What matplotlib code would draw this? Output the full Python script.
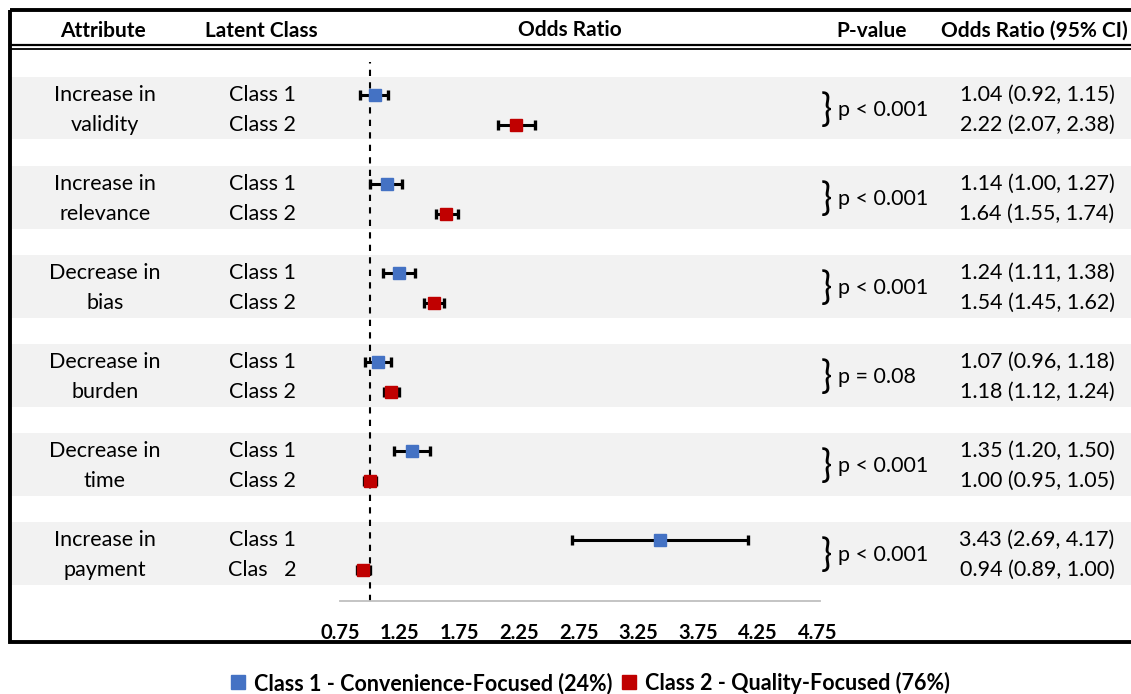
import matplotlib
matplotlib.use("Agg")
import matplotlib.pyplot as plt
import matplotlib.transforms as mtransforms
from matplotlib.patches import Rectangle
from matplotlib.lines import Line2D
import numpy as np

plt.rcParams['font.family'] = ['Lato', 'DejaVu Sans']

# data
attr_top = ["Increase in", "Increase in", "Decrease in", "Decrease in", "Decrease in", "Increase in"]
attr_bottom = ["validity", "relevance", "bias", "burden", "time", "payment"]
class2_labels = ["Class 2"] * 5 + ["Clas   2"]
or1 = np.array([1.04, 1.14, 1.24, 1.07, 1.35, 3.43])
lo1 = np.array([0.92, 1.00, 1.11, 0.96, 1.20, 2.69])
hi1 = np.array([1.15, 1.27, 1.38, 1.18, 1.50, 4.17])
or2 = np.array([2.22, 1.64, 1.54, 1.18, 1.00, 0.94])
lo2 = np.array([2.07, 1.55, 1.45, 1.12, 0.95, 0.89])
hi2 = np.array([2.38, 1.74, 1.62, 1.24, 1.05, 1.00])
pvals = ["p < 0.001", "p < 0.001", "p < 0.001", "p = 0.08", "p < 0.001", "p < 0.001"]
xticks = [0.75, 1.25, 1.75, 2.25, 2.75, 3.25, 3.75, 4.25, 4.75]

blue = '#4472C4'
red = '#C00000'
W, H = 1131, 694

fig = plt.figure(figsize=(W / 100, H / 100), dpi=100)
bg = fig.add_axes([0, 0, 1, 1])
bg.set_xlim(0, W)
bg.set_ylim(H, 0)
bg.axis('off')

# forest plot area (pixels 340..820 wide, 62..601 tall)
ax = fig.add_axes([340 / W, (H - 601) / H, 480 / W, (601 - 62) / H])
ax.set_facecolor('none')
ax.set_xlim(0.75, 4.77)
ax.set_ylim(17.05, -1.11)

n = len(or1)
y1 = np.arange(n) * 3.0
y2 = y1 + 1

trans = mtransforms.blended_transform_factory(bg.transData, ax.transData)

# row bands
for i in range(n):
    bg.add_patch(Rectangle((10, y1[i] - 0.6), W, 2.1, transform=trans,
                           facecolor='#f2f2f2', edgecolor='none', zorder=0))

ax.axvline(1.0, color='black', lw=1.5, ls=(0, (3, 3)), zorder=1)

ax.errorbar(or1, y1, xerr=[or1 - lo1, hi1 - or1], fmt='s', color=blue, ecolor='black',
            elinewidth=2.2, capsize=3.5, capthick=2.4, markersize=9, zorder=3)
ax.errorbar(or2, y2, xerr=[or2 - lo2, hi2 - or2], fmt='s', color=red, ecolor='black',
            elinewidth=2.2, capsize=3.5, capthick=2.4, markersize=9, zorder=3)

for s in ['top', 'left', 'right']:
    ax.spines[s].set_visible(False)
ax.spines['bottom'].set_color('#bfbfbf')
ax.spines['bottom'].set_linewidth(1.3)
ax.set_yticks([])
ax.set_xticks(xticks)
ax.set_xticklabels(['%.2f' % t for t in xticks], fontsize=14.5, fontweight='bold')
ax.tick_params(axis='x', length=0, pad=16)

# row texts
fs = 15.5
for i in range(n):
    bg.text(105, y1[i], attr_top[i], transform=trans, ha='center', va='center', fontsize=fs)
    bg.text(105, y2[i], attr_bottom[i], transform=trans, ha='center', va='center', fontsize=fs)
    bg.text(262, y1[i], "Class 1", transform=trans, ha='center', va='center', fontsize=fs)
    bg.text(262, y2[i], class2_labels[i], transform=trans, ha='center', va='center', fontsize=fs)
    ym = (y1[i] + y2[i]) / 2
    bg.text(826, ym, "}", transform=trans, ha='center', va='center', fontsize=27)
    bg.text(838, ym, pvals[i], transform=trans, ha='left', va='center', fontsize=fs)
    bg.text(1037, y1[i], "%.2f (%.2f, %.2f)" % (or1[i], lo1[i], hi1[i]), transform=trans,
            ha='center', va='center', fontsize=fs)
    bg.text(1037, y2[i], "%.2f (%.2f, %.2f)" % (or2[i], lo2[i], hi2[i]), transform=trans,
            ha='center', va='center', fontsize=fs)

# header
hfs = 15
bg.text(103, 31, "Attribute", ha='center', va='center', fontsize=hfs, fontweight='bold')
bg.text(261, 31, "Latent Class", ha='center', va='center', fontsize=hfs, fontweight='bold')
bg.text(570, 30, "Odds Ratio", ha='center', va='center', fontsize=hfs, fontweight='bold')
bg.text(872, 31, "P-value", ha='center', va='center', fontsize=hfs, fontweight='bold')
bg.text(941, 31, "Odds Ratio (95% CI)", ha='left', va='center', fontsize=hfs, fontweight='bold')
bg.plot([10, W], [44.5, 44.5], color='black', lw=1.6)
bg.plot([10, W], [49, 49], color='black', lw=1.3)

# frame
bg.add_patch(Rectangle((10, 10), W, 632, facecolor='none', edgecolor='black', lw=2.8, zorder=5))

# legend
handles = [Line2D([], [], marker='s', ls='none', color=blue, markersize=10),
           Line2D([], [], marker='s', ls='none', color=red, markersize=10)]
fig.legend(handles, ["Class 1 - Convenience-Focused (24%)", "Class 2 - Quality-Focused (76%)"],
           loc='center', bbox_to_anchor=(590 / W, 1 - 683 / H), ncol=2, frameon=False,
           prop={'weight': 'bold', 'size': 15.5}, handlelength=0.7, handletextpad=0.4,
           columnspacing=0.4)

fig.savefig('out.png', dpi=100)
